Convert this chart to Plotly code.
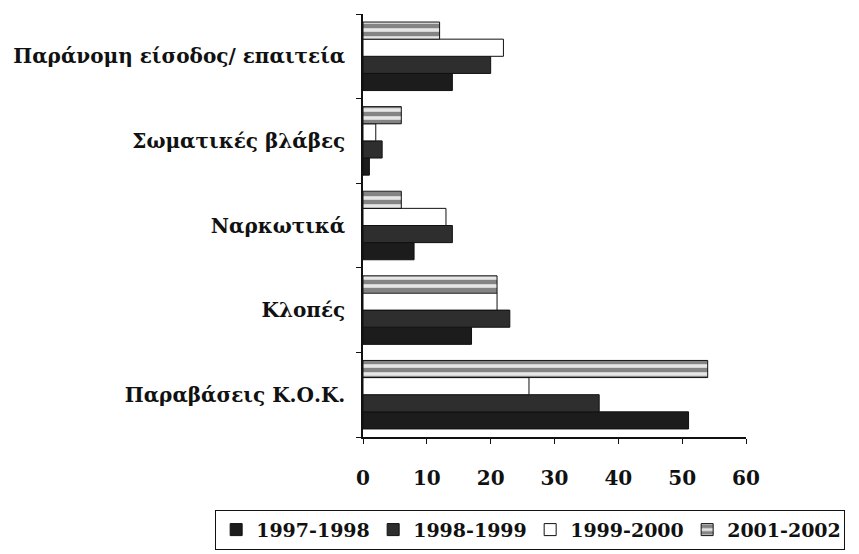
import plotly.graph_objects as go

categories = ["Παραβάσεις Κ.Ο.Κ.", "Κλοπές", "Ναρκωτικά", "Σωματικές βλάβες",
              "Παράνομη είσοδος/ επαιτεία"]
series_names = ["1997-1998", "1998-1999", "1999-2000", "2001-2002"]
v_1997_1998 = [51, 17, 8, 1, 14]
v_1998_1999 = [37, 23, 14, 3, 20]
v_1999_2000 = [26, 21, 13, 2, 22]
v_2001_2002 = [54, 21, 6, 6, 12]
x_ticks = [0, 10, 20, 30, 40, 50, 60]

values = [v_1997_1998, v_1998_1999, v_1999_2000, v_2001_2002]
fills = ["#1c1c1c", "#2e2e2e", "#ffffff", "#e6e6e6"]
patterns = ["", "", "", "-"]

FONT = "DejaVu Serif"
fig = go.Figure()
for name, vals, col, pat in zip(series_names, values, fills, patterns):
    fig.add_trace(go.Bar(
        y=categories, x=vals, name=name, orientation="h",
        marker=dict(color=col, line=dict(color="#111111", width=1),
                    pattern=dict(shape=pat, fgcolor="#222222", size=8, solidity=0.55)),
    ))

fig.update_layout(
    width=859, height=554,
    barmode="group", bargap=0.19, bargroupgap=0,
    paper_bgcolor="white", plot_bgcolor="white",
    margin=dict(l=355, r=121, t=6, b=125),
    font=dict(family=FONT, size=20, color="#111111"),
    showlegend=True,
    legend=dict(orientation="h", x=-0.386, xanchor="left", y=-0.172, yanchor="top",
                bordercolor="#111111", borderwidth=1, traceorder="normal",
                font=dict(family=FONT, size=19, color="#111111", weight="bold"),
                itemwidth=30, entrywidth=112, entrywidthmode="pixels"),
)
fig.update_xaxes(range=[0, 60], tickvals=x_ticks, showgrid=False, zeroline=False,
                 showline=True, linecolor="#111111", linewidth=1.5, automargin=False,
                 ticks="outside", ticklen=5, tickcolor="#111111",
                 ticklabelstandoff=17,
                 tickfont=dict(family=FONT, size=20, weight="bold"))
fig.update_yaxes(showgrid=False, showline=True, linecolor="#111111", linewidth=1.5,
                 automargin=False,
                 ticks="outside", ticklen=5, tickcolor="#111111", tickson="boundaries",
                 ticklabelstandoff=12,
                 tickfont=dict(family=FONT, size=20, weight="bold"))

fig.write_html("out.html")
